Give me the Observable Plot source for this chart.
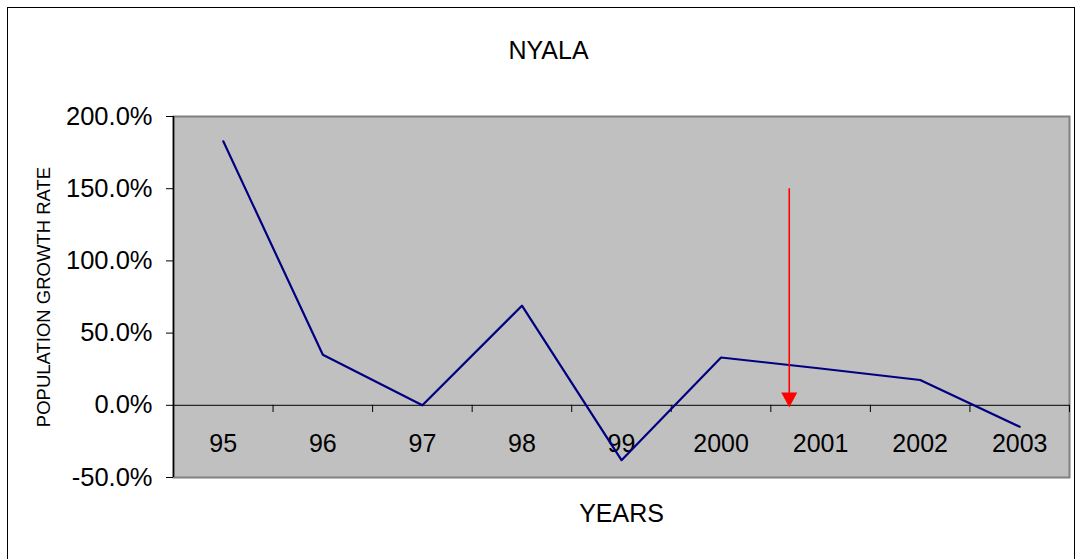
<!DOCTYPE html>
<html>
<head>
<meta charset="utf-8">
<script src="https://cdn.jsdelivr.net/npm/d3@7"></script>
<script src="https://cdn.jsdelivr.net/npm/@observablehq/plot@0.6"></script>
<style>
  html, body { margin: 0; padding: 0; background: white; }
  #wrap { position: relative; width: 1079px; height: 559px; overflow: hidden; }
  #border { position: absolute; left: 7px; top: 7px; width: 1068px; height: 600px; border: 1.5px solid #000; box-sizing: border-box; }
  #chart { position: absolute; left: 0; top: 0; }
</style>
</head>
<body>
<div id="wrap"><div id="border"></div><div id="chart"></div></div>
<script>
// Data
const years = ["95", "96", "97", "98", "99", "2000", "2001", "2002", "2003"];
const growth = [182.8, 35.0, 0.0, 69.0, -38.0, 33.1, 25.5, 17.5, -14.9];
const yTicks = [-50, 0, 50, 100, 150, 200];
const titleText = "NYALA";
const xLabel = "YEARS";
const yLabel = "POPULATION GROWTH RATE";
// Annotation arrow: position on the category axis (between 2000 and 2001), from / to values (%)
const arrowAt = [5.685];
const arrowFrom = 150;
const arrowTo = -1.5;

const boundaries = d3.range(years.length).map(i => i + 0.5);
const rows = years.map((y, i) => ({i, year: y, value: growth[i]}));

const downTriangle = {
  draw(ctx) {
    ctx.moveTo(-8, -15);
    ctx.lineTo(8, -15);
    ctx.lineTo(0, 0);
    ctx.closePath();
  }
};

const chart = Plot.plot({
  width: 1079,
  height: 559,
  marginLeft: 173,
  marginRight: 10,
  marginTop: 116,
  marginBottom: 82,
  style: {fontFamily: "Arial, 'Liberation Sans', sans-serif", fontSize: "24px", background: "transparent", color: "black", overflow: "visible"},
  x: {domain: [-0.5, years.length - 0.5], axis: null},
  y: {domain: [-50, 200], axis: null},
  marks: [
    Plot.frame({fill: "#c0c0c0", stroke: "#808080", strokeWidth: 2}),
    Plot.axisY({ticks: yTicks, tickFormat: d => d.toFixed(1) + "%", tickSize: 7, tickPadding: 14, fontSize: 25.5, label: null, stroke: "#000"}),
    Plot.ruleX([-0.5], {stroke: "#000", strokeWidth: 1.5}),
    Plot.ruleY([0], {stroke: "#000", strokeWidth: 1}),
    Plot.ruleX(boundaries, {x: d => d, y1: 0, y2: -5, stroke: "#000", strokeWidth: 1}),
    Plot.text(rows, {x: "i", y: 0, dy: 39, text: "year", fontSize: 25, fill: "#000"}),
    Plot.line(rows, {x: "i", y: "value", stroke: "#000080", strokeWidth: 2.2}),
    Plot.ruleX(arrowAt, {x: d => d, y1: arrowFrom, y2: arrowTo + 8, stroke: "#ff0000", strokeWidth: 1.6}),
    Plot.dot(arrowAt, {x: d => d, y: arrowTo, symbol: downTriangle, fill: "#ff0000", stroke: null}),
    Plot.text([titleText], {frameAnchor: "top-left", textAnchor: "middle", text: d => d, dx: 375, dy: -75, fontSize: 25, fill: "#000"}),
    Plot.text([xLabel], {frameAnchor: "bottom", textAnchor: "middle", text: d => d, dy: 44, fontSize: 25, fill: "#000"}),
    Plot.text([yLabel], {frameAnchor: "left", textAnchor: "middle", text: d => d, dx: -129, rotate: -90, fontSize: 18.5, fill: "#000"})
  ]
});
document.getElementById("chart").appendChild(chart);
</script>
</body>
</html>
